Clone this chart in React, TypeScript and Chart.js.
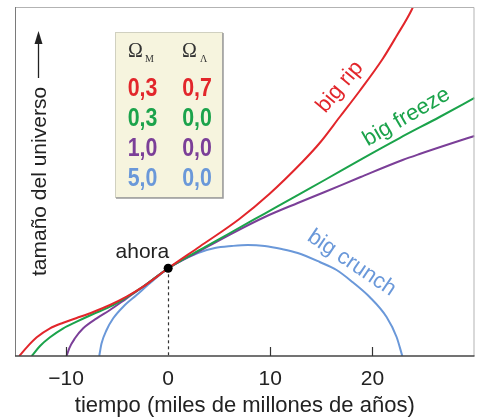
import React, { useEffect, useRef } from 'react';
import { Chart, registerables } from 'chart.js';

Chart.register(...registerables);

const FONT = "'Liberation Sans', Arial, Helvetica, sans-serif";
const SERIF = "'Liberation Serif', 'Times New Roman', serif";
const RED = '#e2262b';
const GREEN = '#1ba34b';
const PURPLE = '#7b3f98';
const BLUE = '#6a98d9';
const TEXT = '#222222';

// x-axis ticks (time in billions of years)
const tickValues = [-10, 0, 10, 20];

// big rip  (Ωm 0.3, ΩΛ 0.7)
const ripX = [-14.58, -13.85, -12.87, -11.57, -10.27, -8.96, -7.34, -5.7, -4.07, -2.45, 0, 3.1, 6.97, 9.91, 13.18, 14.84, 16.8, 18.75, 21.0, 22.37, 23.84, 24.3];
const ripY = [0, 2.49, 5.36, 7.94, 9.54, 10.89, 12.61, 14.61, 16.99, 19.86, 25.13, 31.38, 39.26, 46.42, 55.73, 61.03, 68.48, 75.93, 85.1, 91.69, 99.14, 102.3];

// big freeze (Ωm 0.3, ΩΛ 0)
const freezeX = [-13.36, -12.55, -11.57, -10.27, -8.96, -7.34, -5.7, -4.07, -2.45, 0, 2.91, 6.23, 9.46, 12.69, 15.33, 18.85, 22.67, 26.58, 30];
const freezeY = [0, 2.87, 5.36, 7.94, 9.83, 12.03, 14.13, 16.82, 19.86, 25.13, 30.09, 35.53, 40.83, 46.13, 50.43, 56.3, 62.46, 68.48, 73.93];

// Ωm 1.0, ΩΛ 0
const flatX = [-9.94, -9.69, -9.13, -8.32, -7.0, -5.7, -4.07, -2.45, 0, 2.91, 6.33, 9.46, 12.69, 15.33, 18.85, 22.96, 24.62, 27.85, 30];
const flatY = [0, 2.21, 5.07, 7.94, 10.8, 13.18, 16.53, 19.86, 25.13, 29.8, 35.24, 39.83, 43.84, 46.99, 51.29, 56.16, 57.88, 61.03, 63.04];

// big crunch (Ωm 5.0, ΩΛ 0)
const crunchX = [-6.75, -6.52, -6.03, -5.38, -4.4, -3.09, -1.79, 0, 2.91, 4.57, 6.23, 7.8, 9.46, 11.12, 12.69, 14.84, 16.49, 18.05, 19.73, 21.39, 22.37, 22.93];
const crunchY = [0, 3.64, 7.45, 10.8, 14.13, 17.48, 20.83, 25.13, 29.51, 30.95, 31.52, 31.81, 31.52, 30.66, 29.51, 26.93, 24.64, 21.2, 16.91, 11.17, 5.44, 0];

// "ahora" point
const nowX = [0];
const nowY = [25.13];

// parameter table
const omegaM = ['0,3', '0,3', '1,0', '5,0'];
const omegaL = ['0,7', '0,0', '0,0', '0,0'];
const rowColors = [RED, GREEN, PURPLE, BLUE];

const toPts = (xs: number[], ys: number[]) => xs.map((x, i) => ({ x, y: ys[i] }));

function drawText(ctx: CanvasRenderingContext2D, text: string, x: number, y: number, deg: number, font: string, color: string, baseline: CanvasTextBaseline = 'middle') {
  ctx.save();
  ctx.translate(x, y);
  ctx.rotate((deg * Math.PI) / 180);
  ctx.font = font;
  ctx.fillStyle = color;
  ctx.textAlign = 'center';
  ctx.textBaseline = baseline;
  ctx.fillText(text, 0, 0);
  ctx.restore();
}

const decorPlugin = {
  id: 'decor',
  beforeDatasetsDraw(chart: any) {
    const { ctx, scales } = chart;
    const xs = scales.x, ys = scales.y;
    const px = xs.getPixelForValue(nowX[0]);
    const py = ys.getPixelForValue(nowY[0]);
    ctx.save();
    ctx.strokeStyle = '#333';
    ctx.lineWidth = 1.2;
    ctx.setLineDash([3, 3]);
    ctx.beginPath();
    ctx.moveTo(Math.round(px) + 0.5, py);
    ctx.lineTo(Math.round(px) + 0.5, chart.chartArea.bottom);
    ctx.stroke();
    ctx.restore();
  },
  afterDraw(chart: any) {
    const { ctx, chartArea: a, scales } = chart;
    const xs = scales.x, ys = scales.y;
    ctx.save();
    // frame
    ctx.lineWidth = 1;
    ctx.strokeStyle = '#b3b3b3';
    ctx.beginPath();
    ctx.moveTo(a.left, a.top + 0.5);
    ctx.lineTo(a.right - 0.5, a.top + 0.5);
    ctx.lineTo(a.right - 0.5, a.bottom);
    ctx.stroke();
    ctx.strokeStyle = '#7a7a7a';
    ctx.beginPath();
    ctx.moveTo(a.left + 0.5, a.top);
    ctx.lineTo(a.left + 0.5, a.bottom);
    ctx.stroke();
    ctx.strokeStyle = '#444';
    ctx.lineWidth = 1.5;
    ctx.beginPath();
    ctx.moveTo(a.left, a.bottom);
    ctx.lineTo(a.right, a.bottom);
    ctx.stroke();
    // inward ticks
    ctx.lineWidth = 1.2;
    ctx.strokeStyle = '#333';
    tickValues.forEach((v) => {
      if (v === 0) return;
      const x = Math.round(xs.getPixelForValue(v)) + 0.5;
      ctx.beginPath();
      ctx.moveTo(x, a.bottom);
      ctx.lineTo(x, a.bottom - 9);
      ctx.stroke();
    });
    // y title with arrow
    drawText(ctx, 'tamaño del universo', 46, 181.5, -90, `21px ${FONT}`, TEXT, 'alphabetic');
    ctx.strokeStyle = TEXT;
    ctx.lineWidth = 1.3;
    ctx.beginPath();
    ctx.moveTo(38.5, 78);
    ctx.lineTo(38.5, 42);
    ctx.stroke();
    ctx.fillStyle = TEXT;
    ctx.beginPath();
    ctx.moveTo(38.5, 31);
    ctx.lineTo(34.5, 44);
    ctx.lineTo(42.5, 44);
    ctx.closePath();
    ctx.fill();
    // curve labels
    const P = (t: number, v: number) => [xs.getPixelForValue(t), ys.getPixelForValue(v)];
    let [lx, ly] = P(16.82, 77.08);
    drawText(ctx, 'big rip', lx, ly, -50, `22px ${FONT}`, RED);
    [lx, ly] = P(23.35, 68.48);
    drawText(ctx, 'big freeze', lx, ly, -30, `22px ${FONT}`, GREEN);
    [lx, ly] = P(17.97, 26.65);
    drawText(ctx, 'big crunch', lx, ly, 34, `22px ${FONT}`, BLUE);
    [lx, ly] = P(-2.52, 28.08);
    drawText(ctx, 'ahora', lx, ly, 0, `21px ${FONT}`, TEXT, 'alphabetic');
    // table
    const bx = a.left + 100, by = a.top + 25, bw = 108, bh = 166;
    ctx.fillStyle = '#f6f4de';
    ctx.fillRect(bx, by, bw, bh);
    ctx.lineWidth = 1;
    ctx.strokeStyle = '#d0d0c0';
    ctx.strokeRect(bx + 0.5, by + 0.5, bw - 1, bh - 1);
    ctx.strokeStyle = '#9a9a9a';
    ctx.lineWidth = 1.5;
    ctx.beginPath();
    ctx.moveTo(bx + bw, by + 1);
    ctx.lineTo(bx + bw, by + bh);
    ctx.lineTo(bx + 1, by + bh);
    ctx.stroke();
    const c1 = bx + 27.5, c2 = bx + 82;
    ctx.fillStyle = '#333';
    ctx.textAlign = 'left';
    ctx.textBaseline = 'alphabetic';
    ctx.font = `20px ${SERIF}`;
    ctx.fillText('Ω', bx + 13, by + 25);
    ctx.fillText('Ω', bx + 67, by + 25);
    ctx.font = `10px ${SERIF}`;
    ctx.fillText('M', bx + 30, by + 30);
    ctx.fillText('Λ', bx + 85, by + 30);
    omegaM.forEach((m, i) => {
      const yb = by + 64 + i * 30;
      [[m, c1], [omegaL[i], c2]].forEach(([txt, cx]) => {
        ctx.save();
        ctx.translate(cx as number, yb);
        ctx.scale(0.82, 1);
        ctx.font = `bold 26px ${FONT}`;
        ctx.fillStyle = rowColors[i];
        ctx.textAlign = 'center';
        ctx.fillText(txt as string, 0, 0);
        ctx.restore();
      });
    });
    ctx.restore();
  },
};

export default function App() {
  const ref = useRef<HTMLCanvasElement | null>(null);
  useEffect(() => {
    document.body.style.margin = '0';
    if (!ref.current) return;
    Chart.defaults.font.family = FONT;
    const lineDs = (label: string, xs: number[], ys: number[], color: string) => ({
      type: 'line' as const,
      label,
      data: toPts(xs, ys),
      borderColor: color,
      borderWidth: 2,
      pointRadius: 0,
      fill: false,
      cubicInterpolationMode: 'monotone' as const,
    });
    const chart = new Chart(ref.current, {
      type: 'line',
      data: {
        datasets: [
          {
            type: 'scatter' as const,
            label: 'ahora',
            data: toPts(nowX, nowY),
            pointRadius: 4.5,
            pointBackgroundColor: '#000',
            pointBorderColor: '#000',
            pointBorderWidth: 0,
          } as any,
          lineDs('big rip', ripX, ripY, RED),
          lineDs('big freeze', freezeX, freezeY, GREEN),
          lineDs('Ωm=1', flatX, flatY, PURPLE),
          lineDs('big crunch', crunchX, crunchY, BLUE),
        ],
      },
      options: {
        responsive: false,
        animation: false,
        layout: { padding: { left: 15, top: 7, right: 4, bottom: 0 } },
        plugins: { legend: { display: false }, tooltip: { enabled: false } },
        scales: {
          x: {
            type: 'linear',
            min: -15,
            max: 30,
            afterBuildTicks: (s: any) => {
              s.ticks = tickValues.map((v) => ({ value: v }));
            },
            afterFit: (s: any) => {
              s.height = 64;
            },
            grid: { display: false, drawTicks: false },
            border: { display: false },
            ticks: {
              padding: 11,
              color: TEXT,
              font: { size: 21, family: FONT },
              maxRotation: 0,
              autoSkip: false,
              callback: (v: any) => (Number(v) < 0 ? '\u2212' + Math.abs(Number(v)) : String(v)),
            },
            title: {
              display: true,
              text: 'tiempo (miles de millones de años)',
              color: TEXT,
              font: { size: 22, family: FONT },
              padding: { top: 0, bottom: 1 },
            },
          },
          y: { type: 'linear', min: 0, max: 100, display: false },
        },
      },
      plugins: [decorPlugin],
    });
    return () => chart.destroy();
  }, []);
  return (
    <div style={{ position: 'fixed', left: 0, top: 0, width: 479, height: 420, background: '#fff' }}>
      <canvas ref={ref} width={479} height={420} style={{ display: 'block' }} />
    </div>
  );
}
